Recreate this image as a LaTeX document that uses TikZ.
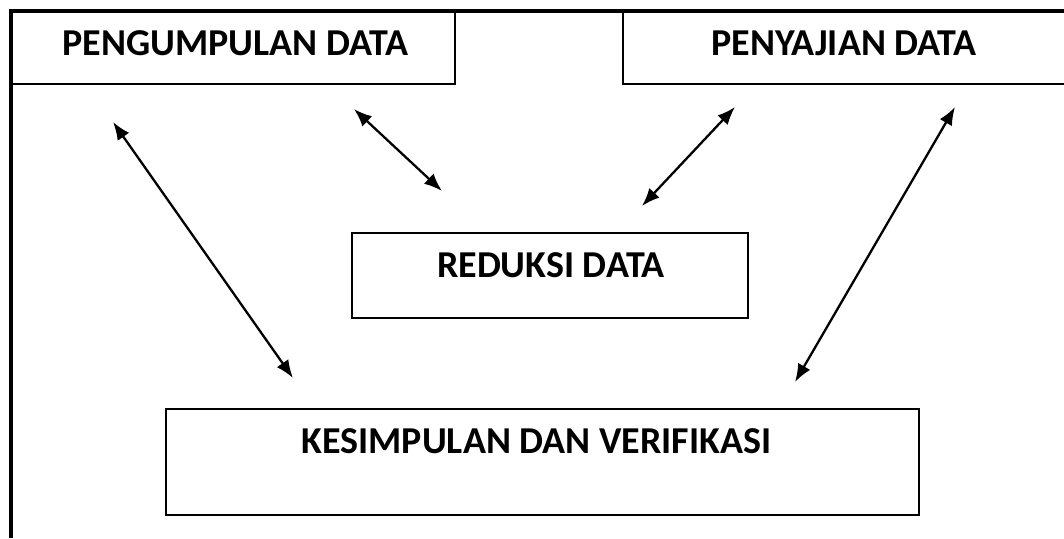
\documentclass[tikz,border=0pt]{standalone}
\usepackage{fontspec}
\setmainfont{Carlito}
\usetikzlibrary{arrows.meta}

\tikzset{
	box/.style = {draw, line width=1.4pt, inner sep=0pt},
	lbl/.style = {font=\fontsize{38}{44}\selectfont\bfseries, inner sep=0pt, anchor=base},
	link/.style = {{Latex[length=18pt,width=14pt]}-{Latex[length=18pt,width=14pt]}, line width=2.3pt}
}

\begin{document}
\begin{tikzpicture}[x=1pt, y=-1pt]

\useasboundingbox (0,0) rectangle (1064,538);

% boxes
\node[box, minimum width=444, minimum height=73] (kumpul) at (233,47.5) {};
\draw[line width=1.4pt] (623,11) |- (1070,84);
\node[box, minimum width=396, minimum height=85] (reduksi) at (550,275.5) {};
\node[box, minimum width=753, minimum height=106] (simpul) at (542.5,462) {};

% frame
\draw[line width=4pt] (11,538) -- (11,11) -- (1070,11);

% texts
\node[lbl] (kumpultxt) at (235.5,55.5) {PENGUMPULAN DATA};
\node[lbl] (sajitxt) at (844,55.5) {PENYAJIAN DATA};
\node[lbl] (reduksitxt) at (551,277.5) {REDUKSI DATA};
\node[lbl] (simpultxt) at (536.5,453.5) {KESIMPULAN DAN VERIFIKASI};

% arrow ends
\coordinate (a1) at (113,122); \coordinate (b1) at (293,378);
\coordinate (a2) at (354,109); \coordinate (b2) at (442,191);
\coordinate (a3) at (735,107); \coordinate (b3) at (642,206);
\coordinate (a4) at (955,107); \coordinate (b4) at (795,382);

\foreach \i in {1,...,4} {
	\draw[link] (a\i) -- (b\i);
}

\end{tikzpicture}
\end{document}
